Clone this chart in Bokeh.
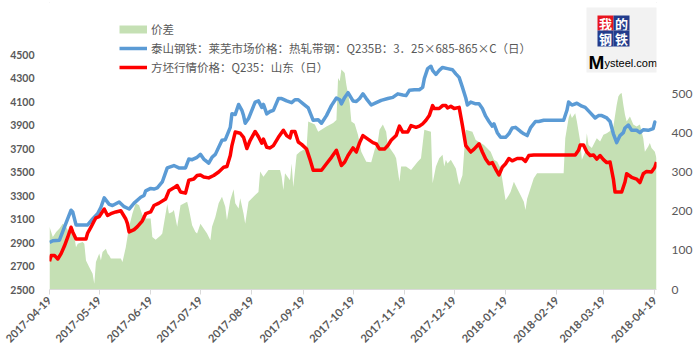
import numpy as np
import pandas as pd
from math import pi
from bokeh.plotting import figure
from bokeh.models import (Range1d, LinearAxis, FixedTicker, DatetimeTickFormatter,
                          Legend, LegendItem, BoxAnnotation, Label, InlineStyleSheet)
from bokeh.embed import file_html
from bokeh.resources import INLINE

# ---------------- data ----------------
tick_dates = ["2017-04-19", "2017-05-19", "2017-06-19", "2017-07-19", "2017-08-19",
              "2017-09-19", "2017-10-19", "2017-11-19", "2017-12-19", "2018-01-19",
              "2018-02-19", "2018-03-19", "2018-04-19"]
left_ticks = [2500, 2700, 2900, 3100, 3300, 3500, 3700, 3900, 4100, 4300, 4500]
right_ticks = [0, 100, 200, 300, 400, 500]
left_min, left_max = 2500, 4500
right_min, right_max = 0, 600

series_names = ["价差",
                "泰山钢铁：莱芜市场价格：热轧带钢：Q235B：3．25×685-865×C（日）",
                "方坯行情价格：Q235：山东（日）"]

blue_dates = [
    "2017-04-19", "2017-04-21", "2017-04-25", "2017-04-28", "2017-05-02", "2017-05-03", "2017-05-05",
    "2017-05-12", "2017-05-15", "2017-05-18", "2017-05-20", "2017-05-22", "2017-05-25", "2017-05-27",
    "2017-05-31", "2017-06-03", "2017-06-06", "2017-06-09", "2017-06-13", "2017-06-15", "2017-06-16",
    "2017-06-19", "2017-06-21", "2017-06-23", "2017-06-26", "2017-06-29", "2017-07-03", "2017-07-06",
    "2017-07-10", "2017-07-12", "2017-07-14", "2017-07-17", "2017-07-19", "2017-07-21", "2017-07-24",
    "2017-07-26", "2017-07-28", "2017-08-01", "2017-08-03", "2017-08-06", "2017-08-07", "2017-08-09",
    "2017-08-11", "2017-08-13", "2017-08-14", "2017-08-15", "2017-08-17", "2017-08-19", "2017-08-21",
    "2017-08-23", "2017-08-25", "2017-08-26", "2017-08-28", "2017-08-30", "2017-09-01", "2017-09-04",
    "2017-09-06", "2017-09-09", "2017-09-12", "2017-09-14", "2017-09-16", "2017-09-19", "2017-09-22",
    "2017-09-25", "2017-09-28", "2017-09-30", "2017-10-03", "2017-10-06", "2017-10-09", "2017-10-11",
    "2017-10-12", "2017-10-14", "2017-10-16", "2017-10-19", "2017-10-21", "2017-10-23", "2017-10-25",
    "2017-10-27", "2017-10-30", "2017-11-02", "2017-11-05", "2017-11-09", "2017-11-12", "2017-11-15",
    "2017-11-18", "2017-11-20", "2017-11-22", "2017-11-25", "2017-11-28", "2017-11-30", "2017-12-01",
    "2017-12-03", "2017-12-05", "2017-12-06", "2017-12-08", "2017-12-10", "2017-12-12", "2017-12-15",
    "2017-12-18", "2017-12-20", "2017-12-22", "2017-12-24", "2017-12-26", "2017-12-27", "2017-12-29",
    "2018-01-01", "2018-01-03", "2018-01-05", "2018-01-07", "2018-01-09", "2018-01-11", "2018-01-12",
    "2018-01-14", "2018-01-16", "2018-01-19", "2018-01-21", "2018-01-23", "2018-01-25", "2018-01-28",
    "2018-01-30", "2018-02-01", "2018-02-03", "2018-02-06", "2018-02-08", "2018-02-11", "2018-02-23",
    "2018-02-25", "2018-02-26", "2018-02-28", "2018-03-03", "2018-03-06", "2018-03-08", "2018-03-11",
    "2018-03-14", "2018-03-16", "2018-03-18", "2018-03-21", "2018-03-23", "2018-03-25", "2018-03-27",
    "2018-03-29", "2018-03-31", "2018-04-01", "2018-04-03", "2018-04-05", "2018-04-08", "2018-04-10",
    "2018-04-12", "2018-04-15", "2018-04-18", "2018-04-19", "2018-04-20"]
blue_vals = [
    2900, 2915, 2920, 3030, 3175, 3160, 3050,
    3050, 3100, 3145, 3200, 3280, 3225, 3215,
    3245, 3205, 3185, 3235, 3285, 3300, 3340,
    3360, 3355, 3365, 3415, 3535, 3555, 3535,
    3535, 3610, 3605, 3625, 3650, 3610, 3575,
    3625, 3650, 3770, 3775, 3880, 3995, 3990,
    4075, 4025, 3980, 3915, 3955, 4025, 4095,
    4105, 4050, 4075, 3995, 4015, 4025, 4125,
    4125, 4105, 4090, 4115, 4115, 4080, 4045,
    3940, 3945, 3915, 3980, 4065, 4130, 4115,
    4080, 4135, 4175, 4105, 4100, 4125, 4165,
    4125, 4070, 4090, 4110, 4125, 4135, 4165,
    4155, 4150, 4195, 4200, 4200, 4220, 4295,
    4380, 4400, 4365, 4330, 4365, 4390, 4380,
    4370, 4335, 4305, 4220, 4130, 4070, 4095,
    4080, 4080, 4040, 3975, 3930, 3890, 3910,
    3835, 3795, 3795, 3825, 3875, 3880, 3845,
    3825, 3810, 3875, 3930, 3930, 3940, 3940,
    4025, 4095, 4070, 4085, 4060, 4050, 4005,
    3960, 3980, 3980, 3960, 3930, 3825, 3750,
    3810, 3835, 3875, 3900, 3855, 3855, 3835,
    3860, 3855, 3870, 3925, 3915]

red_dates = [
    "2017-04-19", "2017-04-20", "2017-04-22", "2017-04-24", "2017-04-26", "2017-04-28", "2017-04-30",
    "2017-05-02", "2017-05-03", "2017-05-05", "2017-05-11", "2017-05-12", "2017-05-14", "2017-05-16",
    "2017-05-17", "2017-05-19", "2017-05-22", "2017-05-24", "2017-05-26", "2017-05-29", "2017-06-01",
    "2017-06-04", "2017-06-05", "2017-06-06", "2017-06-09", "2017-06-11", "2017-06-14", "2017-06-16",
    "2017-06-19", "2017-06-21", "2017-06-24", "2017-06-28", "2017-06-30", "2017-07-03", "2017-07-05",
    "2017-07-07", "2017-07-10", "2017-07-12", "2017-07-15", "2017-07-17", "2017-07-19", "2017-07-21",
    "2017-07-24", "2017-07-27", "2017-07-30", "2017-08-02", "2017-08-04", "2017-08-06", "2017-08-07",
    "2017-08-09", "2017-08-12", "2017-08-14", "2017-08-16", "2017-08-18", "2017-08-21", "2017-08-23",
    "2017-08-25", "2017-08-26", "2017-08-28", "2017-08-30", "2017-09-01", "2017-09-04", "2017-09-07",
    "2017-09-09", "2017-09-11", "2017-09-12", "2017-09-14", "2017-09-16", "2017-09-18", "2017-09-21",
    "2017-09-23", "2017-09-25", "2017-09-30", "2017-10-03", "2017-10-06", "2017-10-09", "2017-10-12",
    "2017-10-14", "2017-10-16", "2017-10-19", "2017-10-21", "2017-10-23", "2017-10-25", "2017-10-28",
    "2017-10-31", "2017-11-02", "2017-11-04", "2017-11-07", "2017-11-09", "2017-11-11", "2017-11-14",
    "2017-11-16", "2017-11-18", "2017-11-21", "2017-11-23", "2017-11-26", "2017-11-28", "2017-11-30",
    "2017-12-02", "2017-12-04", "2017-12-06", "2017-12-07", "2017-12-10", "2017-12-12", "2017-12-14",
    "2017-12-15", "2017-12-17", "2017-12-19", "2017-12-22", "2017-12-24", "2017-12-26", "2017-12-29",
    "2017-12-31", "2018-01-03", "2018-01-05", "2018-01-07", "2018-01-09", "2018-01-11", "2018-01-13",
    "2018-01-15", "2018-01-17", "2018-01-19", "2018-01-21", "2018-01-23", "2018-01-26", "2018-01-29",
    "2018-01-31", "2018-02-02", "2018-02-05", "2018-03-02", "2018-03-04", "2018-03-05", "2018-03-07",
    "2018-03-09", "2018-03-11", "2018-03-13", "2018-03-15", "2018-03-17", "2018-03-19", "2018-03-21",
    "2018-03-23", "2018-03-25", "2018-03-26", "2018-03-30", "2018-04-01", "2018-04-02", "2018-04-05",
    "2018-04-08", "2018-04-10", "2018-04-12", "2018-04-14", "2018-04-17", "2018-04-19", "2018-04-20"]
red_vals = [
    2740, 2790, 2790, 2760, 2805, 2870, 2945,
    3030, 2990, 2930, 2930, 2980, 3030, 3085,
    3110, 3120, 3185, 3130, 3145, 3160, 3170,
    3100, 3060, 2990, 3010, 3035, 3085, 3145,
    3160, 3215, 3235, 3270, 3340, 3365, 3385,
    3330, 3320, 3430, 3440, 3470, 3475, 3458,
    3450, 3470, 3500, 3540, 3547, 3640, 3725,
    3840, 3830, 3795, 3700, 3770, 3845, 3800,
    3745, 3780, 3710, 3705, 3725, 3795, 3855,
    3810, 3790, 3845, 3845, 3755, 3735, 3695,
    3610, 3515, 3515, 3570, 3625, 3685, 3555,
    3585, 3640, 3705, 3670, 3750, 3810, 3780,
    3750, 3740, 3695, 3695, 3725, 3770, 3810,
    3890, 3840, 3840, 3895, 3880, 3890, 3910,
    3940, 3980, 4065, 4040, 4040, 4065, 4065,
    4045, 4060, 4040, 4050, 3895, 3725, 3670,
    3695, 3740, 3670, 3610, 3570, 3580, 3525,
    3475, 3540, 3570, 3615, 3595, 3615, 3615,
    3590, 3640, 3645, 3645, 3685, 3730, 3730,
    3670, 3640, 3645, 3610, 3640, 3605, 3580,
    3585, 3440, 3330, 3330, 3415, 3485, 3455,
    3440, 3410, 3485, 3505, 3500, 3540, 3585]

spread_dates = [
    "2017-04-19", "2017-04-21", "2017-04-23", "2017-04-25", "2017-04-27", "2017-04-29", "2017-05-01",
    "2017-05-03", "2017-05-04", "2017-05-05", "2017-05-06", "2017-05-09", "2017-05-10", "2017-05-11",
    "2017-05-13", "2017-05-15", "2017-05-16", "2017-05-17", "2017-05-19", "2017-05-20", "2017-05-21",
    "2017-05-23", "2017-05-24", "2017-05-25", "2017-05-26", "2017-06-01", "2017-06-02", "2017-06-04",
    "2017-06-06", "2017-06-08", "2017-06-10", "2017-06-12", "2017-06-14", "2017-06-16", "2017-06-19",
    "2017-06-20", "2017-06-22", "2017-06-25", "2017-06-26", "2017-06-29", "2017-06-30", "2017-07-02",
    "2017-07-03", "2017-07-05", "2017-07-07", "2017-07-11", "2017-07-12", "2017-07-14", "2017-07-16",
    "2017-07-17", "2017-07-19", "2017-07-23", "2017-07-25", "2017-07-26", "2017-07-28", "2017-07-30",
    "2017-08-01", "2017-08-03", "2017-08-04", "2017-08-06", "2017-08-08", "2017-08-09", "2017-08-11",
    "2017-08-12", "2017-08-14", "2017-08-15", "2017-08-17", "2017-08-21", "2017-08-23", "2017-08-24",
    "2017-08-26", "2017-08-29", "2017-09-05", "2017-09-06", "2017-09-07", "2017-09-08", "2017-09-11",
    "2017-09-12", "2017-09-13", "2017-09-15", "2017-09-17", "2017-09-21", "2017-09-22", "2017-09-24",
    "2017-09-26", "2017-09-28", "2017-10-03", "2017-10-07", "2017-10-09", "2017-10-10", "2017-10-11",
    "2017-10-12", "2017-10-14", "2017-10-15", "2017-10-17", "2017-10-18", "2017-10-20", "2017-10-22",
    "2017-10-24", "2017-10-27", "2017-10-30", "2017-11-01", "2017-11-03", "2017-11-04", "2017-11-06",
    "2017-11-08", "2017-11-09", "2017-11-11", "2017-11-13", "2017-11-14", "2017-11-16", "2017-11-17",
    "2017-11-20", "2017-11-23", "2017-11-27", "2017-11-29", "2017-12-01", "2017-12-05", "2017-12-06",
    "2017-12-08", "2017-12-10", "2017-12-12", "2017-12-13", "2017-12-14", "2017-12-15", "2017-12-17",
    "2017-12-20", "2017-12-22", "2017-12-24", "2017-12-26", "2017-12-30", "2018-01-01", "2018-01-06",
    "2018-01-10", "2018-01-12", "2018-01-14", "2018-01-16", "2018-01-18", "2018-01-19", "2018-01-21",
    "2018-01-22", "2018-01-24", "2018-01-26", "2018-01-28", "2018-01-30", "2018-01-31", "2018-02-01",
    "2018-02-03", "2018-02-05", "2018-02-07", "2018-02-23", "2018-02-24", "2018-02-26", "2018-02-27",
    "2018-02-28", "2018-03-02", "2018-03-03", "2018-03-05", "2018-03-06", "2018-03-08", "2018-03-09",
    "2018-03-10", "2018-03-12", "2018-03-15", "2018-03-17", "2018-03-19", "2018-03-21", "2018-03-23",
    "2018-03-25", "2018-03-27", "2018-03-28", "2018-03-29", "2018-03-30", "2018-03-31", "2018-04-01",
    "2018-04-02", "2018-04-04", "2018-04-06", "2018-04-08", "2018-04-10", "2018-04-12", "2018-04-13",
    "2018-04-15", "2018-04-16", "2018-04-17", "2018-04-19", "2018-04-20"]
spread_vals = [
    160, 134, 147, 156, 168, 160, 143,
    147, 134, 108, 117, 121, 117, 74,
    57, 40, 15, 70, 92, 74, 96,
    104, 92, 87, 79, 79, 70, 108,
    160, 194, 220, 215, 190, 181, 181,
    134, 127, 138, 143, 218, 194, 198,
    203, 160, 215, 224, 207, 164, 147,
    143, 168, 143, 126, 160, 185, 220,
    237, 211, 177, 228, 256, 220, 207,
    233, 194, 168, 224, 241, 249, 301,
    288, 305, 305, 288, 254, 297, 279,
    322, 262, 344, 352, 361, 429, 425,
    421, 403, 416, 425, 433, 540, 532,
    562, 553, 523, 476, 429, 423, 395,
    352, 326, 325, 356, 378, 408, 421,
    403, 369, 356, 344, 335, 275, 314,
    314, 305, 326, 335, 408, 403, 271,
    314, 335, 344, 314, 331, 322, 331,
    309, 267, 292, 408, 403, 382, 369,
    352, 331, 326, 309, 254, 228, 241,
    249, 275, 258, 241, 224, 203, 232,
    258, 284, 297, 297, 386, 438, 450,
    438, 450, 429, 378, 331, 352, 399,
    369, 361, 386, 378, 395, 399, 405,
    416, 472, 493, 499, 502, 472, 446,
    429, 442, 421, 416, 421, 386, 352,
    365, 374, 361, 352, 335]

# ---------------- layout / styles ----------------
GREEN = "#C5E0B4"
BLUE = "#5B9BD5"
RED = "#FF0000"
TXT = "#595959"

W, H = 695, 363
BL, BR, BT, BB = 49, 36, 0, 74          # plot frame reaches the top so the legend can sit there
FH = H - BT - BB
AXIS_TOP = 54                            # pixel row of the top axis value (4500 / 600)
scale_k = FH / (FH - (AXIS_TOP - BT))

border_css = InlineStyleSheet(css=":host { outline: 1px solid #D9D9D9; outline-offset: -3px; }")

p = figure(width=W, height=H, x_axis_type="datetime",
           output_backend="svg", toolbar_location=None,
           x_range=Range1d(pd.Timestamp("2017-04-19"), pd.Timestamp("2018-04-20")),
           y_range=Range1d(left_min, left_min + (left_max - left_min) * scale_k),
           min_border_left=BL, min_border_right=BR, min_border_top=BT, min_border_bottom=BB,
           stylesheets=[border_css])
p.extra_y_ranges = {"right": Range1d(right_min, right_min + (right_max - right_min) * scale_k)}
p.outline_line_color = None
p.xgrid.visible = False
p.ygrid.visible = False
p.background_fill_color = "white"
p.border_fill_color = "white"

sx = pd.to_datetime(spread_dates)
bx = pd.to_datetime(blue_dates)
rx = pd.to_datetime(red_dates)

area = p.varea(x=sx, y1=[0] * len(spread_vals), y2=spread_vals,
               fill_color=GREEN, y_range_name="right")
# legend swatch for the area series (a thick line, drawn nowhere in the plot)
proxy = p.line(x=sx[:1], y=np.array([np.nan]), line_color=GREEN, line_width=8,
               y_range_name="right")
blue_r = p.line(x=bx, y=blue_vals, line_color=BLUE, line_width=3.5, line_join="round")
red_r = p.line(x=rx, y=red_vals, line_color=RED, line_width=3.5, line_join="round")

# x axis
xa = p.xaxis[0]
xa.ticker = FixedTicker(ticks=[d.timestamp() * 1000 for d in pd.to_datetime(tick_dates)])
xa.formatter = DatetimeTickFormatter(days="%Y-%m-%d", months="%Y-%m-%d", years="%Y-%m-%d",
                                     hours="%Y-%m-%d", hourmin="%Y-%m-%d")
xa.major_label_orientation = pi / 4
xa.axis_line_color = "#D9D9D9"
xa.major_tick_line_color = "#D9D9D9"
xa.major_tick_out = 5
xa.major_tick_in = 0
xa.minor_tick_line_color = None
xa.major_label_text_font = "Lato"
xa.major_label_text_font_style = "bold"
xa.major_label_text_font_size = "11px"
xa.major_label_text_color = TXT
xa.major_label_standoff = 4

# left axis
ya = p.yaxis[0]
ya.ticker = FixedTicker(ticks=left_ticks)
ya.axis_line_color = None
ya.major_tick_line_color = None
ya.minor_tick_line_color = None
ya.major_label_text_font = "Lato"
ya.major_label_text_font_style = "bold"
ya.major_label_text_font_size = "10.5px"
ya.major_label_text_color = TXT
ya.major_label_standoff = 9

# right axis
ra = LinearAxis(y_range_name="right", ticker=FixedTicker(ticks=right_ticks))
ra.axis_line_color = None
ra.major_tick_line_color = None
ra.minor_tick_line_color = None
ra.major_label_text_font = "Lato"
ra.major_label_text_font_size = "12px"
ra.major_label_text_color = TXT
ra.major_label_standoff = 9
p.add_layout(ra, "right")

# legend
leg = Legend(items=[LegendItem(label=series_names[0], renderers=[proxy]),
                    LegendItem(label=series_names[1], renderers=[blue_r]),
                    LegendItem(label=series_names[2], renderers=[red_r])],
             location=(70, 213), orientation="vertical",
             background_fill_alpha=0, border_line_color=None,
             padding=0, margin=0, spacing=1,
             glyph_width=28, glyph_height=18, label_height=18, label_standoff=4,
             label_text_font="Noto Sans CJK SC", label_text_font_size="11.5px",
             label_text_color=TXT)
p.add_layout(leg)

# logo (screen units relative to plot frame; kept inside the frame)
LX = -28  # horizontal shift so that the logo stays inside the plot frame


def scr_box(l, r, t, b, color):
    return BoxAnnotation(left=l + LX - BL, right=r + LX - BL, top=BT + FH - t, bottom=BT + FH - b,
                         left_units="screen", right_units="screen",
                         top_units="screen", bottom_units="screen",
                         fill_color=color, fill_alpha=1, line_color=None)


p.add_layout(scr_box(614, 687, 7, 72, "#F2F2F2"))
logo_cells = [("我", 625, 641, 15, 30, "#E8141E"), ("的", 641, 657, 15, 30, "#233C8C"),
              ("钢", 625, 641, 30, 46, "#233C8C"), ("铁", 641, 657, 30, 46, "#233C8C")]
for ch, l, r, t, b, c in logo_cells:
    p.add_layout(scr_box(l, r, t, b, c))
    p.add_layout(Label(x=(l + r) / 2 + LX - BL, y=BT + FH - (t + b) / 2,
                       x_units="screen", y_units="screen",
                       text=ch, text_align="center", text_baseline="middle",
                       text_color="white", text_font="Noto Sans CJK SC",
                       text_font_style="bold", text_font_size="13px"))
p.add_layout(Label(x=616 + LX - BL, y=BT + FH - 62, x_units="screen", y_units="screen",
                   text="M", text_baseline="alphabetic", text_color="black",
                   text_font="Liberation Sans", text_font_style="bold", text_font_size="19px"))
p.add_layout(Label(x=632 + LX - BL, y=BT + FH - 62, x_units="screen", y_units="screen",
                   text="ysteel.com", text_baseline="alphabetic", text_color="black",
                   text_font="Liberation Sans", text_font_size="11px"))

open("out.html", "w").write(file_html(p, INLINE))
